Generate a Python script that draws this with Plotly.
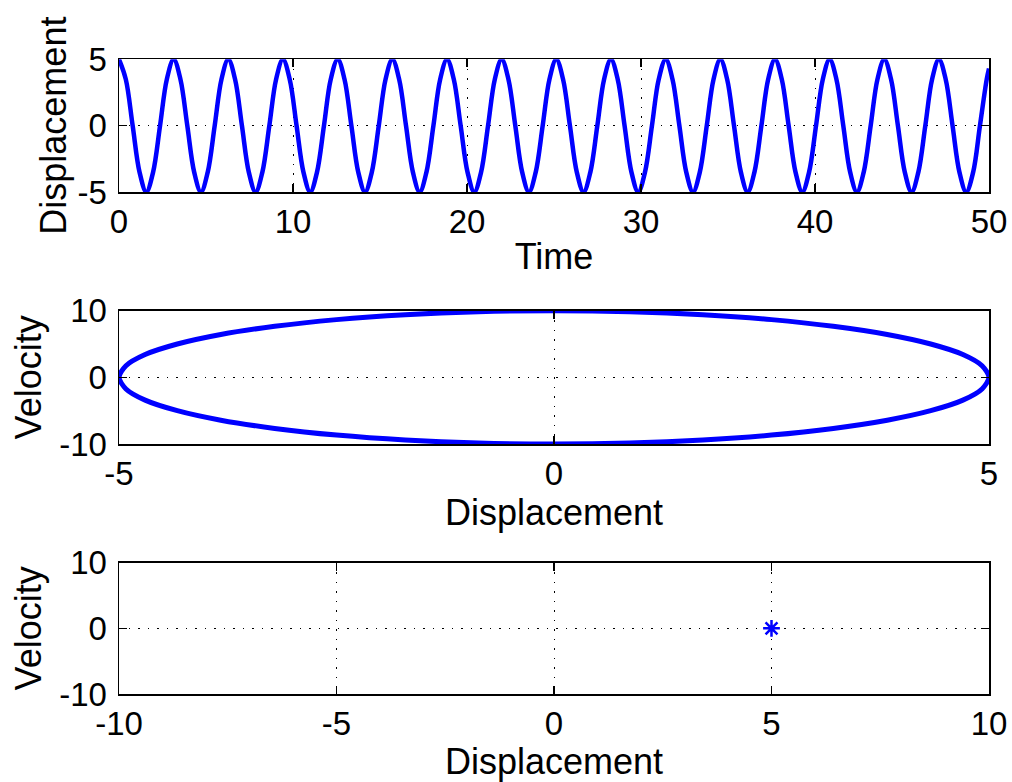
import plotly.graph_objects as go

# ---- data ----
# Top panel: displacement vs time (peaks of the oscillation and the shape of one cycle)
peak_times = [0.0, 3.14, 6.28, 9.42, 12.57, 15.71, 18.85, 21.99, 25.13,
              28.27, 31.42, 34.56, 37.70, 40.84, 43.98, 47.12]
cycle_offsets = [0.0, 0.39, 0.785, 1.18, 1.57, 1.96, 2.36, 2.75]
cycle_values = [5.0, 3.5, 0.0, -3.5, -5.0, -3.5, 0.0, 3.5]
end_time = [48.69, 49.09, 49.48, 49.87, 50.0]
end_disp = [-5.0, -3.5, 0.0, 3.5, 4.3]

# Middle panel: phase portrait (displacement, velocity), traced from the top of the loop
ellipse_disp = [0.0, 0.87, 1.71, 2.5, 3.21, 3.83, 4.33, 4.70, 4.92, 5.0,
                4.92, 4.70, 4.33, 3.83, 3.21, 2.5, 1.71, 0.87, 0.0,
                -0.87, -1.71, -2.5, -3.21, -3.83, -4.33, -4.70, -4.92, -5.0,
                -4.92, -4.70, -4.33, -3.83, -3.21, -2.5, -1.71, -0.87, 0.0]
ellipse_vel = [10.0, 9.85, 9.40, 8.66, 7.66, 6.43, 5.0, 3.42, 1.74, 0.0,
               -1.74, -3.42, -5.0, -6.43, -7.66, -8.66, -9.40, -9.85, -10.0,
               -9.85, -9.40, -8.66, -7.66, -6.43, -5.0, -3.42, -1.74, 0.0,
               1.74, 3.42, 5.0, 6.43, 7.66, 8.66, 9.40, 9.85, 10.0]

# Bottom panel: current state point
point_disp = [5.0]
point_vel = [0.0]

# tick values
t_ticks = [0, 10, 20, 30, 40, 50]
d_ticks_top = [-5, 0, 5]
d_ticks_mid = [-5, 0, 5]
v_ticks = [-10, 0, 10]
d_ticks_bot = [-10, -5, 0, 5, 10]

# build the time series from the read peaks and cycle shape
time = []
disp = []
for p in peak_times:
    for off, val in zip(cycle_offsets, cycle_values):
        if p + off < end_time[0] - 0.05:
            time.append(p + off)
            disp.append(val)
time += end_time
disp += end_disp

BLUE = "#0000FF"
FONT = "Liberation Sans, Arial, Helvetica, sans-serif"
TICKF = dict(family=FONT, size=33, color="black")
TITLEF = dict(family=FONT, size=36, color="black")

fig = go.Figure()
fig.add_trace(go.Scatter(x=time, y=disp, mode="lines", xaxis="x", yaxis="y",
                         line=dict(color=BLUE, width=4.5, shape="spline", smoothing=1.0),
                         showlegend=False))
fig.add_trace(go.Scatter(x=ellipse_disp, y=ellipse_vel, mode="lines", xaxis="x2", yaxis="y2",
                         line=dict(color=BLUE, width=5, shape="spline", smoothing=0.8),
                         showlegend=False))
fig.add_trace(go.Scatter(x=point_disp, y=point_vel, mode="markers", xaxis="x3", yaxis="y3",
                         marker=dict(symbol="asterisk-open", size=14, color=BLUE,
                                     line=dict(color=BLUE, width=2.5)),
                         showlegend=False))

W, H = 1012, 782
xdom = [119 / W, 989 / W]

def ydom(top, bot):
    return [1 - bot / H, 1 - top / H]

common = dict(showline=True, linecolor="black", linewidth=1.5, mirror="ticks",
              ticks="inside", ticklen=8, tickwidth=1.2, tickcolor="black",
              showgrid=True, gridcolor="black", gridwidth=1, griddash="1.5px,8px",
              zeroline=False, tickfont=TICKF, fixedrange=True, automargin=False)

def xa(rng, ticks, title, anchor):
    d = dict(common)
    d.update(domain=xdom, range=rng, tickmode="array", tickvals=ticks,
             ticktext=[str(t) for t in ticks], anchor=anchor,
             title=dict(text=title, font=TITLEF, standoff=4))
    return d

def ya(rng, ticks, title, dom, anchor, standoff):
    d = dict(common)
    d.update(domain=dom, range=rng, tickmode="array", tickvals=ticks,
             ticktext=[str(t) for t in ticks], anchor=anchor, ticklabelstandoff=4,
             title=dict(text=title, font=TITLEF, standoff=standoff))
    return d

fig.update_layout(
    width=W, height=H,
    margin=dict(l=0, r=0, t=0, b=0, autoexpand=False),
    paper_bgcolor="white", plot_bgcolor="white",
    showlegend=False, hovermode=False,
    xaxis=xa([0, 50], t_ticks, "Time", "y"),
    yaxis=ya([-5, 5], d_ticks_top, "Displacement", ydom(59.3, 192), "x", 0),
    xaxis2=xa([-5, 5], d_ticks_mid, "Displacement", "y2"),
    yaxis2=ya([-10, 10], v_ticks, "Velocity", ydom(310.7, 444), "x2", 6),
    xaxis3=xa([-10, 10], d_ticks_bot, "Displacement", "y3"),
    yaxis3=ya([-10, 10], v_ticks, "Velocity", ydom(562.7, 694), "x3", 6),
)

# remove the default page margin so the 1012x782 figure fills the window exactly
fig.write_html("out.html",
               config={"displayModeBar": False, "staticPlot": True},
               post_script="document.body.style.margin='0';document.body.style.overflow='hidden';")
